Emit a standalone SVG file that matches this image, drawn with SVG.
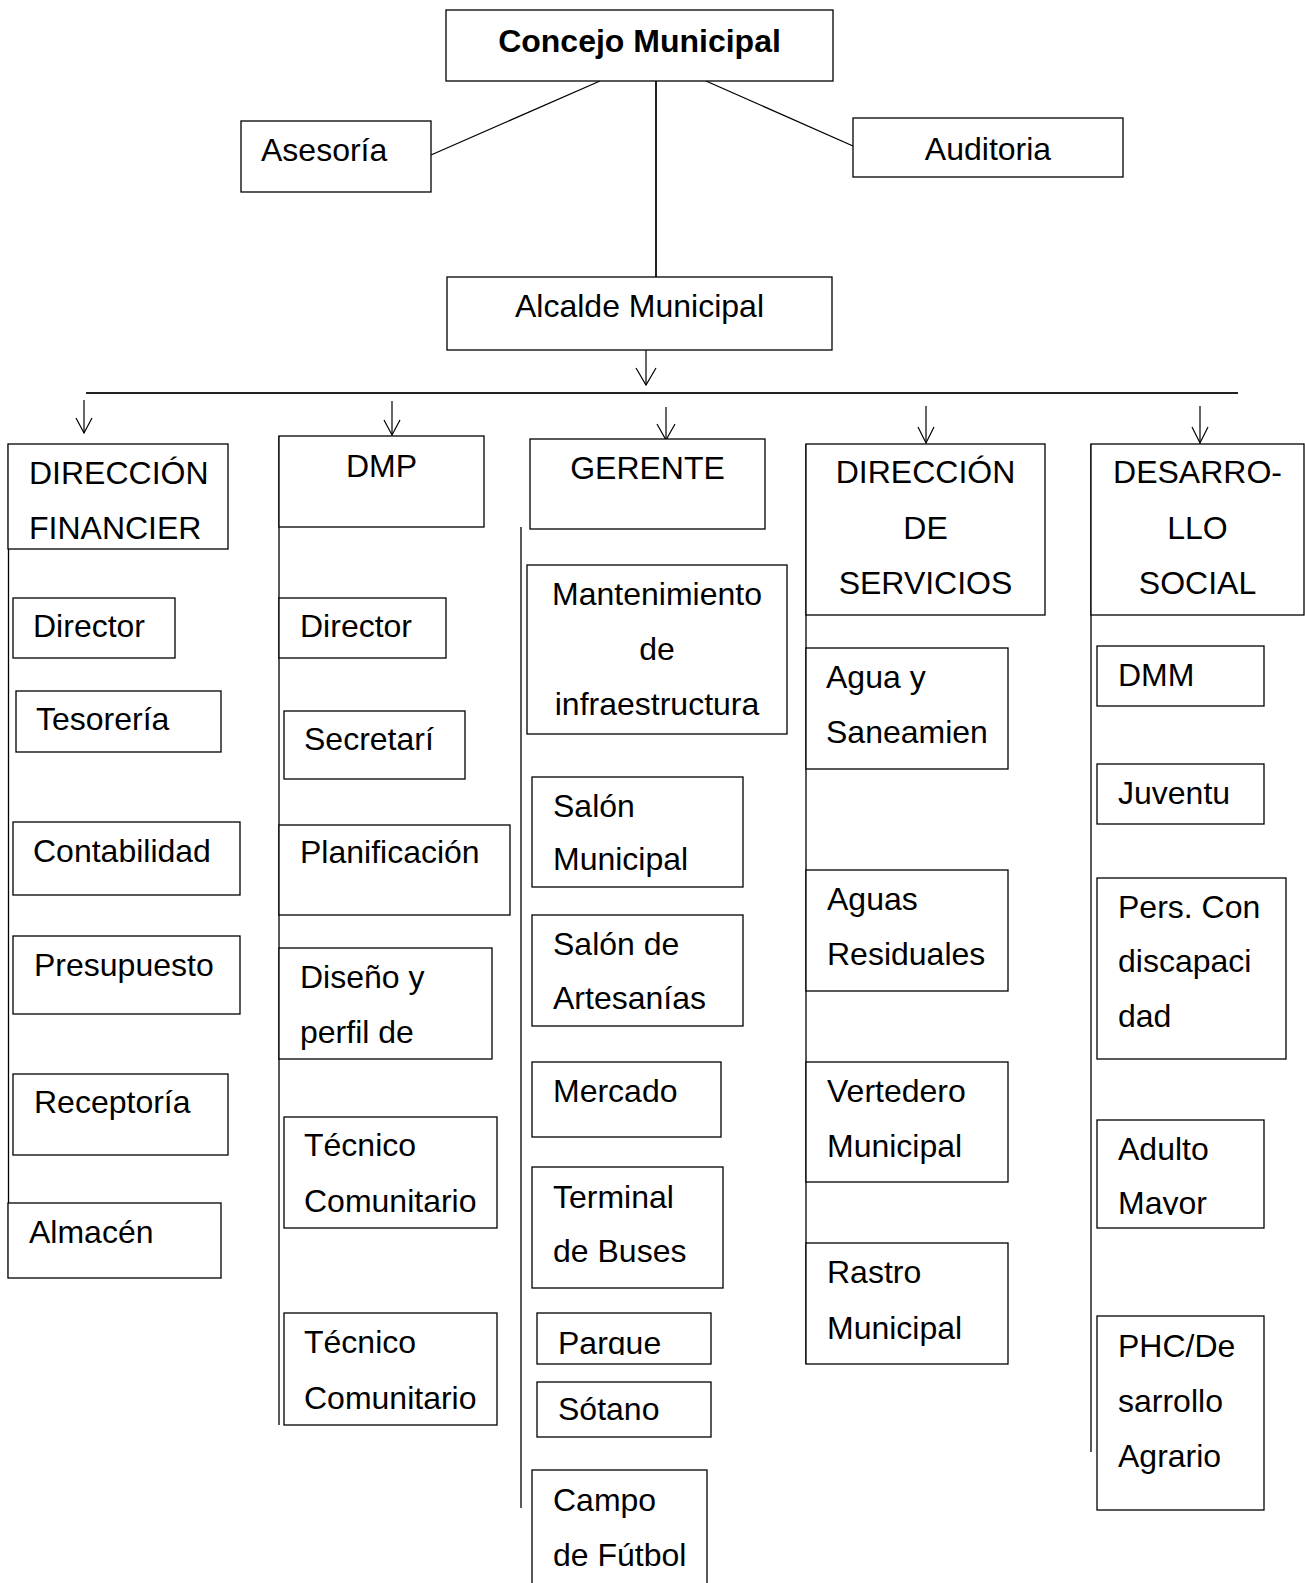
<svg xmlns="http://www.w3.org/2000/svg" width="1305" height="1583" viewBox="0 0 1305 1583">
<style>
rect.b{fill:#fff;stroke:#000;stroke-width:1.3}
text{font-family:"Liberation Sans",Arial,sans-serif;font-size:32px;fill:#000}
text.c{text-anchor:middle}
text.bold{font-weight:bold}
.ln{stroke:#000;stroke-width:1.3;fill:none}
.thick{stroke:#222;stroke-width:2;fill:none}
.arr{stroke:#000;stroke-width:1.2;fill:none}
</style>
<defs>
<clipPath id="clipParque"><rect x="537" y="1313" width="174" height="42"/></clipPath>
<clipPath id="clipMayor"><rect x="1097" y="1120" width="167" height="95"/></clipPath>
</defs>
<rect width="1305" height="1583" fill="#fff"/>

<g id="connectors">
<line class="thick" x1="656" y1="81" x2="656" y2="277"/>
<line class="ln" x1="600" y1="81" x2="431" y2="155"/>
<line class="ln" x1="706" y1="81" x2="853" y2="146"/>
<line class="arr" x1="646" y1="350" x2="646" y2="385"/>
<path class="arr" d="M636,368 L646,385 L656,368"/>
<line class="thick" x1="86" y1="393" x2="1238" y2="393"/>
<line class="arr" x1="84" y1="400" x2="84" y2="433"/>
<path class="arr" d="M76,418 L84,433 L92,418"/>
<line class="arr" x1="392" y1="401" x2="392" y2="435"/>
<path class="arr" d="M384,420 L392,435 L400,420"/>
<line class="arr" x1="666" y1="407" x2="666" y2="440"/>
<path class="arr" d="M657,424 L666,440 L675,424"/>
<line class="arr" x1="926" y1="406" x2="926" y2="443"/>
<path class="arr" d="M918,427 L926,443 L934,427"/>
<line class="arr" x1="1200" y1="406" x2="1200" y2="443"/>
<path class="arr" d="M1192,427 L1200,443 L1208,427"/>
<line class="ln" x1="8.5" y1="444" x2="8.5" y2="1278"/>
<line class="ln" x1="279" y1="436" x2="279" y2="1425"/>
<line class="ln" x1="521" y1="527" x2="521" y2="1508"/>
<line class="ln" x1="806" y1="444" x2="806" y2="1364"/>
<line class="ln" x1="1091" y1="444" x2="1091" y2="1452"/>
</g>

<g id="concejo"><rect class="b" x="446" y="10" width="387" height="71"/><text class="c bold" x="639.5" y="52">Concejo Municipal</text></g>
<g id="asesoria"><rect class="b" x="241" y="121" width="190" height="71"/><text x="261" y="161">Asesoría</text></g>
<g id="auditoria"><rect class="b" x="853" y="118" width="270" height="59"/><text class="c" x="988" y="160">Auditoria</text></g>
<g id="alcalde"><rect class="b" x="447" y="277" width="385" height="73"/><text class="c" x="639.5" y="317">Alcalde Municipal</text></g>

<g id="dir-financiera"><rect class="b" x="8" y="444" width="220" height="105"/><text x="29" y="484">DIRECCIÓN</text><text x="29" y="539">FINANCIER</text></g>
<g id="fin-director"><rect class="b" x="13" y="598" width="162" height="60"/><text x="33" y="637">Director</text></g>
<g id="tesoreria"><rect class="b" x="16" y="691" width="205" height="61"/><text x="36" y="730">Tesorería</text></g>
<g id="contabilidad"><rect class="b" x="13" y="822" width="227" height="73"/><text x="33" y="862">Contabilidad</text></g>
<g id="presupuesto"><rect class="b" x="13" y="936" width="227" height="78"/><text x="34" y="976">Presupuesto</text></g>
<g id="receptoria"><rect class="b" x="13" y="1074" width="215" height="81"/><text x="34" y="1113">Receptoría</text></g>
<g id="almacen"><rect class="b" x="8" y="1203" width="213" height="75"/><text x="29" y="1243">Almacén</text></g>

<g id="dmp"><rect class="b" x="279" y="436" width="205" height="91"/><text class="c" x="381.5" y="477">DMP</text></g>
<g id="dmp-director"><rect class="b" x="279" y="598" width="167" height="60"/><text x="300" y="637">Director</text></g>
<g id="secretari"><rect class="b" x="284" y="711" width="181" height="68"/><text x="304" y="750">Secretarí</text></g>
<g id="planificacion"><rect class="b" x="279" y="825" width="231" height="90"/><text x="300" y="863">Planificación</text></g>
<g id="diseno"><rect class="b" x="279" y="948" width="213" height="111"/><text x="300" y="988">Diseño y</text><text x="300" y="1043">perfil de</text></g>
<g id="tecnico1"><rect class="b" x="284" y="1117" width="213" height="111"/><text x="304" y="1156">Técnico</text><text x="304" y="1212">Comunitario</text></g>
<g id="tecnico2"><rect class="b" x="284" y="1313" width="213" height="112"/><text x="304" y="1353">Técnico</text><text x="304" y="1409">Comunitario</text></g>

<g id="gerente"><rect class="b" x="530" y="439" width="235" height="90"/><text class="c" x="647.5" y="479">GERENTE</text></g>
<g id="mantenimiento"><rect class="b" x="527" y="565" width="260" height="169"/><text class="c" x="657" y="605">Mantenimiento</text><text class="c" x="657" y="660">de</text><text class="c" x="657" y="715">infraestructura</text></g>
<g id="salon-municipal"><rect class="b" x="532" y="777" width="211" height="110"/><text x="553" y="817">Salón</text><text x="553" y="870">Municipal</text></g>
<g id="salon-artesanias"><rect class="b" x="532" y="915" width="211" height="111"/><text x="553" y="955">Salón de</text><text x="553" y="1009">Artesanías</text></g>
<g id="mercado"><rect class="b" x="532" y="1062" width="189" height="75"/><text x="553" y="1102">Mercado</text></g>
<g id="terminal"><rect class="b" x="532" y="1167" width="191" height="121"/><text x="553" y="1208">Terminal</text><text x="553" y="1262">de Buses</text></g>
<g id="parque"><rect class="b" x="537" y="1313" width="174" height="51"/><text x="558" y="1354" clip-path="url(#clipParque)">Parque</text></g>
<g id="sotano"><rect class="b" x="537" y="1382" width="174" height="55"/><text x="558" y="1420">Sótano</text></g>
<g id="campo"><rect class="b" x="532" y="1470" width="175" height="120"/><text x="553" y="1511">Campo</text><text x="553" y="1566">de Fútbol</text></g>

<g id="dir-servicios"><rect class="b" x="806" y="444" width="239" height="171"/><text class="c" x="925.5" y="483">DIRECCIÓN</text><text class="c" x="925.5" y="539">DE</text><text class="c" x="925.5" y="594">SERVICIOS</text></g>
<g id="agua"><rect class="b" x="806" y="648" width="202" height="121"/><text x="826" y="688">Agua y</text><text x="826" y="743">Saneamien</text></g>
<g id="aguas-residuales"><rect class="b" x="806" y="870" width="202" height="121"/><text x="827" y="910">Aguas</text><text x="827" y="965">Residuales</text></g>
<g id="vertedero"><rect class="b" x="806" y="1062" width="202" height="120"/><text x="827" y="1102">Vertedero</text><text x="827" y="1157">Municipal</text></g>
<g id="rastro"><rect class="b" x="806" y="1243" width="202" height="121"/><text x="827" y="1283">Rastro</text><text x="827" y="1339">Municipal</text></g>

<g id="desarrollo-social"><rect class="b" x="1091" y="444" width="213" height="171"/><text class="c" x="1197.5" y="483">DESARRO-</text><text class="c" x="1197.5" y="539">LLO</text><text class="c" x="1197.5" y="594">SOCIAL</text></g>
<g id="dmm"><rect class="b" x="1097" y="646" width="167" height="60"/><text x="1118" y="686">DMM</text></g>
<g id="juventu"><rect class="b" x="1097" y="764" width="167" height="60"/><text x="1118" y="804">Juventu</text></g>
<g id="discapacidad"><rect class="b" x="1097" y="878" width="189" height="181"/><text x="1118" y="918">Pers. Con</text><text x="1118" y="972">discapaci</text><text x="1118" y="1027">dad</text></g>
<g id="adulto-mayor"><rect class="b" x="1097" y="1120" width="167" height="108"/><text x="1118" y="1160">Adulto</text><text x="1118" y="1214" clip-path="url(#clipMayor)">Mayor</text></g>
<g id="phc"><rect class="b" x="1097" y="1316" width="167" height="194"/><text x="1118" y="1357">PHC/De</text><text x="1118" y="1412">sarrollo</text><text x="1118" y="1467">Agrario</text></g>
</svg>
